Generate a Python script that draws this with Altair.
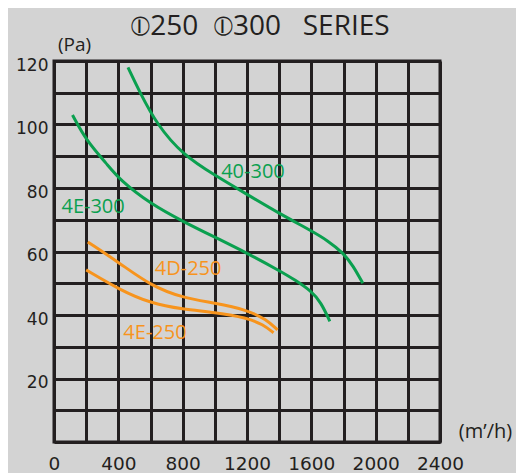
import altair as alt
import pandas as pd

# ---- data ----
x_40_300 = [460, 535, 640, 800, 1000, 1200, 1400, 1600, 1700, 1800, 1860, 1920]
y_40_300 = [118, 110, 100, 90.5, 84, 78, 72, 66.5, 63.5, 59.5, 55.5, 50]

x_4e_300 = [115, 200, 330, 410, 600, 800, 1000, 1200, 1400, 1500, 1600, 1660, 1715]
y_4e_300 = [103, 95, 87.5, 82.5, 75, 69.5, 64.5, 59.5, 54, 51, 47.5, 44, 38]

x_4d_250 = [210, 410, 600, 800, 1000, 1200, 1320, 1390]
y_4d_250 = [63, 56.3, 49.3, 45.4, 43.8, 41.6, 38.6, 35.3]

x_4e_250 = [200, 410, 600, 800, 1000, 1200, 1300, 1365]
y_4e_250 = [54.2, 47.9, 43.7, 41.8, 40.8, 39.1, 37.0, 34.4]

series_names = ["40-300", "4E-300", "4D-250", "4E-250"]
series_colors = ["#0aa04f", "#0aa04f", "#f7941d", "#f7941d"]
label_x = [1237, 243, 834, 628]
label_y = [85, 74, 54.5, 34.3]

x_grid = list(range(0, 2401, 200))
y_grid = list(range(0, 121, 10))

rows = []
for name, xs, ys in [("40-300", x_40_300, y_40_300), ("4E-300", x_4e_300, y_4e_300),
                     ("4D-250", x_4d_250, y_4d_250), ("4E-250", x_4e_250, y_4e_250)]:
    for i, (a, b) in enumerate(zip(xs, ys)):
        rows.append({"series": name, "flow": a, "pressure": b, "order": i})
df = pd.DataFrame(rows)
labels = pd.DataFrame({"series": series_names, "flow": label_x, "pressure": label_y})

TXT = "#231f20"
xscale = alt.Scale(domain=[0, 2400], nice=False, zero=True)
yscale = alt.Scale(domain=[0, 120], nice=False, zero=True)
cscale = alt.Scale(domain=series_names, range=series_colors)

xaxis = alt.Axis(values=x_grid, grid=True, gridColor=TXT, gridWidth=3, gridOpacity=1,
                 ticks=False, domain=False, format="d",
                 labelExpr="datum.value % 400 == 0 ? datum.label : ''",
                 labelFont="DejaVu Sans", labelFontSize=18.5, labelColor=TXT, labelPadding=12,
                 title="(m\u2019/h)", titleFont="Open Sans", titleFontSize=20, titleFontWeight="normal",
                 titleColor=TXT, titleX=431, titleY=-11, titleAnchor="middle", titleBaseline="middle",
                 labelFlush=False, labelOverlap=False)
yaxis = alt.Axis(values=y_grid, grid=True, gridColor=TXT, gridWidth=3, gridOpacity=1,
                 ticks=False, domain=False, format="d",
                 labelExpr="(datum.value % 20 == 0 && datum.value > 0) ? datum.label : ''",
                 labelFont="DejaVu Sans", labelFontSize=17, labelColor=TXT, labelPadding=6,
                 labelOffset=4, labelOverlap=False, labelFlush=False,
                 title="(Pa)", titleFont="Open Sans", titleFontSize=19, titleFontWeight="normal",
                 titleColor=TXT, titleAngle=0, titleX=20, titleY=-17, titleAnchor="middle",
                 titleBaseline="middle", titleAlign="center")

lines = alt.Chart(df).mark_line(strokeWidth=3, interpolate="basis").encode(
    x=alt.X("flow:Q", scale=xscale, axis=xaxis),
    y=alt.Y("pressure:Q", scale=yscale, axis=yaxis),
    color=alt.Color("series:N", scale=cscale, legend=None),
    detail="series:N",
    order="order:Q",
)

texts = alt.Chart(labels).mark_text(font="Open Sans", fontSize=20, align="center",
                                    baseline="middle").encode(
    x=alt.X("flow:Q", scale=xscale, axis=xaxis),
    y=alt.Y("pressure:Q", scale=yscale, axis=yaxis),
    text="series:N",
    color=alt.Color("series:N", scale=cscale, legend=None),
)

title = alt.TitleParams(text="\u29b6250\u00a0\u00a0\u29b6300\u00a0\u00a0\u00a0SERIES",
                        font="Open Sans", fontSize=28, fontWeight="normal", color=TXT,
                        anchor="middle", dx=13, dy=33, offset=13, baseline="middle")

chart = alt.layer(lines, texts).properties(
    width=386, height=381, title=title,
    autosize=alt.AutoSizeParams(type="none"),
    padding={"left": 46, "top": 53, "right": 76, "bottom": 31},
    background="#d3d3d3",
).configure_view(stroke=TXT, strokeWidth=3)

chart.save("out.html", embed_options={"renderer": "svg", "actions": False})
